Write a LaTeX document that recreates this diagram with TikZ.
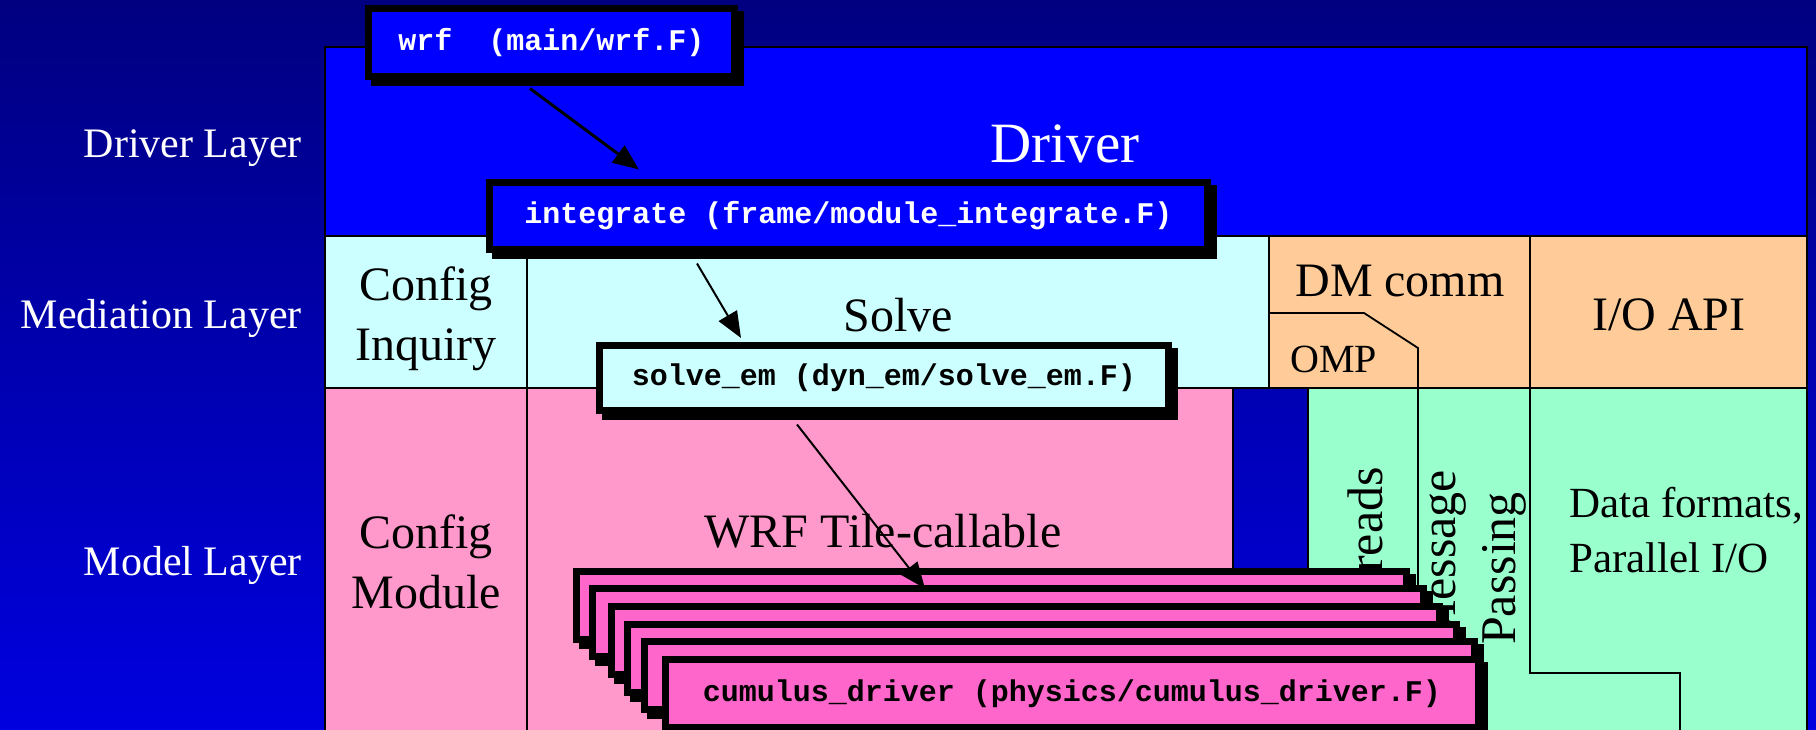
\documentclass[tikz,border=0pt]{standalone}
\usepackage{fontspec}
\setmainfont{Liberation Serif}
\setmonofont{Liberation Mono}
\usetikzlibrary{arrows.meta,calc}
\definecolor{bgtop}{RGB}{0,0,128}
\definecolor{bgbot}{RGB}{0,0,224}
\definecolor{drvblue}{RGB}{0,0,255}
\definecolor{medcyan}{RGB}{204,255,255}
\definecolor{modpink}{RGB}{255,153,204}
\definecolor{peach}{RGB}{255,204,153}
\definecolor{mint}{RGB}{153,255,204}
\definecolor{stackpink}{RGB}{255,102,204}
\tikzset{
  region/.style={draw=black, line width=1.8pt},
  lbl/.style={font=\fontsize{48}{60}\selectfont, text=black, inner sep=0pt},
  layerlbl/.style={font=\fontsize{42}{50}\selectfont, text=white, inner sep=0pt, anchor=base east},
  codebox/.style={draw=black, line width=7pt, inner sep=0pt,
    font=\fontsize{30}{36}\selectfont\ttfamily\bfseries,
    preaction={fill=black, draw=black, line width=7pt, transform canvas={xshift=6pt,yshift=-6pt}}},
  callarrow/.style={draw=black, -{Triangle[length=26pt,width=21pt]}},
  stackbox/.style={codebox, fill=stackpink, text=black, minimum height=68pt}
}
\begin{document}
\begin{tikzpicture}[x=1pt,y=-1pt]
\useasboundingbox (0,0) rectangle (1816,730);
\shade[top color=bgtop, bottom color=bgbot] (0,0) rectangle (1816,730);

% layer regions
\path[region, fill=drvblue] (325,47) rectangle (1807,236);
\path[region, fill=medcyan] (325,236) rectangle (527,388);
\path[region, fill=medcyan] (527,236) rectangle (1269,388);
\path[region, fill=peach] (1269,236) rectangle (1530,388);
\path[region, fill=peach] (1530,236) rectangle (1807,388);
\path[region, fill=modpink] (325,388) rectangle (527,745);
\path[region, fill=modpink] (527,388) rectangle (1233,745);
\path[region, fill=mint] (1308,388) rectangle (1807,745);
\draw[region] (1269,313) -- (1364,313) -- (1418,348) -- (1418,745);
\draw[region] (1530,388) -- (1530,673) -- (1680,673) -- (1680,745);

% layer labels
\node[layerlbl] (dl) at (302,158) {Driver Layer};
\node[layerlbl] (ml) at (302,328) {Mediation Layer};
\node[layerlbl] (mol) at (302,575) {Model Layer};

% region labels (base anchor of a multi-line node = baseline of its last line)
\node[lbl, text=white, font=\fontsize{57}{60}\selectfont, anchor=base] (drv) at (1065,163) {Driver};
\node[lbl, align=center, anchor=base] (ci) at (426,360) {Config\\Inquiry};
\node[lbl, anchor=base] (slv) at (898,331) {Solve};
\node[lbl, anchor=base] (dm) at (1400,297) {DM comm};
\node[lbl, anchor=base] (io) at (1669,330) {I/O API};
\node[lbl, font=\fontsize{40}{48}\selectfont, anchor=base west] (omp) at (1290,372) {OMP};
\node[lbl, align=center, anchor=base] (cm) at (426,608) {Config\\Module};
\node[lbl, anchor=base] (wrft) at (883,547) {WRF Tile-callable};
\node[lbl, font=\fontsize{43}{55}\selectfont, align=left, anchor=base west] (df) at (1569,572) {Data formats,\\Parallel I/O};
\node[lbl, font=\fontsize{50}{60}\selectfont, rotate=90, anchor=base east] (thr) at (1382,467) {Threads};
\node[lbl, font=\fontsize{50}{60}\selectfont, rotate=90, align=left, anchor=base west] (mp) at (1515,645) {Message\\Passing};

% call chain
\node[codebox, fill=drvblue, text=white, minimum width=366pt, minimum height=68pt] (wrf) at (551.5,42.5) {wrf\ \ (main/wrf.F)};
\node[codebox, fill=drvblue, text=white, minimum width=718pt, minimum height=67pt] (integ) at (848.5,216) {integrate (frame/module\_integrate.F)};
\node[codebox, fill=medcyan, text=black, minimum width=569pt, minimum height=65pt] (solve) at (884,378) {solve\_em (dyn\_em/solve\_em.F)};

\draw[callarrow, line width=3pt] ($(wrf.south)+(-21.5,8.5)$) -- ($(integ.north)+(-209.5,-9.5)$);
\draw[callarrow, line width=2pt] ($(integ.south)+(-151.5,10.5)$) -- ($(solve.north)+(-143,-4)$);

\node[stackbox, minimum width=830pt] (b1) at (991.5,605.5) {};
\draw[callarrow, line width=2pt] ($(solve.south)+(-87,10.5)$) -- ($(b1.north)+(-66.5,20.5)$);
\node[stackbox, minimum width=831pt] (b2) at (1008,622.5) {};
\node[stackbox, minimum width=828pt] (b3) at (1025.5,640.5) {};
\node[stackbox, minimum width=829pt] (b4) at (1042,658.5) {};
\node[stackbox, minimum width=830pt] (b5) at (1059.5,675.5) {};
\node[stackbox, minimum width=813pt] (cum) at (1072,693.5) {cumulus\_driver (physics/cumulus\_driver.F)};
\end{tikzpicture}
\end{document}
